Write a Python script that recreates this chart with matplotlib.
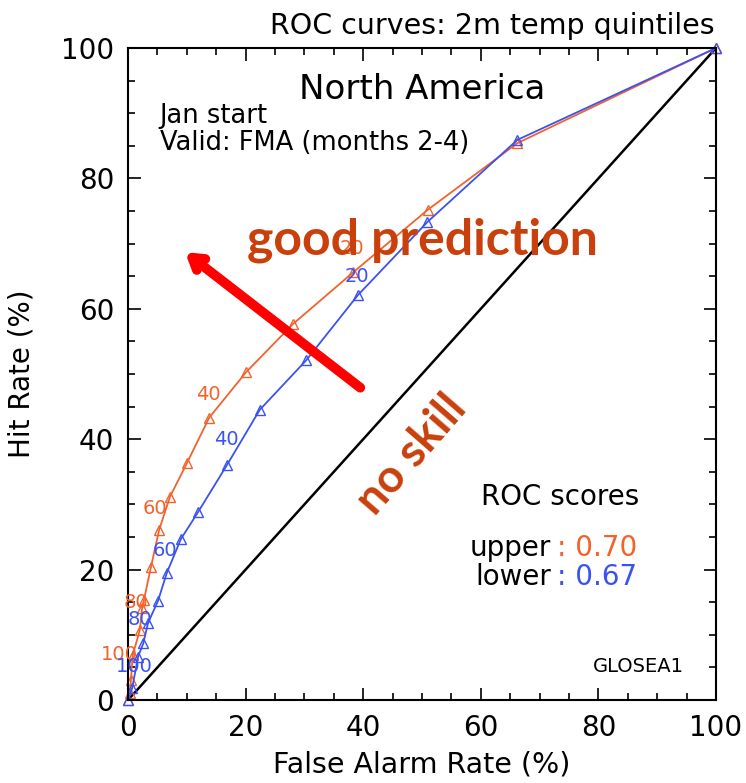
import matplotlib
matplotlib.use("Agg")
import matplotlib.pyplot as plt
from matplotlib.ticker import MultipleLocator

# ROC points (false alarm rate %, hit rate %) for the two quintile categories
upper_far = [0.0, 0.3, 0.5, 0.8, 2.0, 2.4, 2.7, 3.9, 5.3, 7.1, 10.0, 13.8, 20.1, 28.1, 38.3, 51.0, 66.2, 100.0]
upper_hit = [0.0, 1.1, 3.1, 6.9, 10.7, 14.1, 15.3, 20.4, 26.1, 31.1, 36.3, 43.3, 50.3, 57.7, 65.6, 75.2, 85.4, 100.0]
lower_far = [0.0, 0.7, 1.7, 2.6, 3.4, 5.1, 6.6, 9.0, 11.9, 16.8, 22.4, 30.3, 39.1, 50.9, 66.2, 100.0]
lower_hit = [0.0, 1.8, 6.6, 8.7, 11.8, 15.2, 19.5, 24.7, 28.8, 36.0, 44.5, 52.1, 62.1, 73.3, 85.9, 100.0]

# probability threshold labels along each curve
upper_labels = ["100", "80", "60", "40", "20"]
upper_label_xy = [(-1.4, 7.0), (1.3, 15.0), (4.6, 29.4), (13.6, 46.8), (38.1, 69.2)]
lower_labels = ["100", "80", "60", "40", "20"]
lower_label_xy = [(1.0, 5.2), (2.1, 12.3), (6.3, 23.0), (16.8, 39.9), (38.9, 64.9)]

roc_upper = "0.70"
roc_lower = "0.67"

ORANGE = "#F4622C"
BLUE = "#3B52F2"
ANNOT = "#C9400C"

fig = plt.figure(figsize=(7.46, 7.83), dpi=100)
ax = fig.add_axes([0.1716, 0.106, 0.7882, 0.8327])

ax.plot([0, 100], [0, 100], color="black", lw=1.8)
ax.plot(upper_far, upper_hit, color=ORANGE, lw=1.3, marker="^", ms=7,
        mfc="none", mec=ORANGE, mew=1.0, clip_on=False)
ax.plot(lower_far, lower_hit, color=BLUE, lw=1.3, marker="^", ms=7,
        mfc="none", mec=BLUE, mew=1.0, clip_on=False)

for lab, (x, y) in zip(upper_labels, upper_label_xy):
    ax.text(x, y, lab, color=ORANGE, fontsize=14, ha="center", va="center", clip_on=False)
for lab, (x, y) in zip(lower_labels, lower_label_xy):
    ax.text(x, y, lab, color=BLUE, fontsize=14, ha="center", va="center", clip_on=False)

ax.set_xlim(0, 100)
ax.set_ylim(0, 100)
ax.xaxis.set_major_locator(MultipleLocator(20))
ax.xaxis.set_minor_locator(MultipleLocator(5))
ax.yaxis.set_major_locator(MultipleLocator(20))
ax.yaxis.set_minor_locator(MultipleLocator(5))
ax.tick_params(which="both", direction="in", top=True, right=True, width=1.2)
ax.tick_params(which="major", length=9, labelsize=20, pad=10)
ax.tick_params(which="minor", length=5)
for sp in ax.spines.values():
    sp.set_linewidth(1.5)

ax.set_xlabel("False Alarm Rate (%)", fontsize=20.5, labelpad=6)
ax.set_ylabel("Hit Rate (%)", fontsize=20, labelpad=18)
ax.text(61.9, 101.3, "ROC curves: 2m temp quintiles", fontsize=20.5,
        ha="center", va="bottom")

ax.text(50.0, 93.6, "North America", fontsize=24.5, ha="center", va="center")
ax.text(5.4, 89.6, "Jan start", fontsize=18.5, ha="left", va="center")
ax.text(5.4, 85.4, "Valid: FMA (months 2-4)", fontsize=18.5, ha="left", va="center")

ax.text(73.5, 31.1, "ROC scores", fontsize=20, ha="center", va="center")
ax.text(72.0, 23.3, "upper", fontsize=20, ha="right", va="center")
ax.text(73.0, 23.3, ": " + roc_upper, fontsize=20, ha="left", va="center", color=ORANGE)
ax.text(72.0, 18.8, "lower", fontsize=20, ha="right", va="center")
ax.text(73.0, 18.8, ": " + roc_lower, fontsize=20, ha="left", va="center", color=BLUE)
ax.text(94.5, 5.1, "GLOSEA1", fontsize=14, ha="right", va="center")

# overlaid annotations
ax.text(50.0, 70.5, "good prediction", fontsize=36, fontweight="bold",
        family="Lato", color=ANNOT, ha="center", va="center")
ax.text(48.3, 37.6, "no skill", fontsize=33, fontweight="bold",
        family="Lato", color=ANNOT, ha="center", va="center", rotation=49)
ax.annotate("", xy=(9.7, 68.7), xytext=(39.5, 47.9),
            arrowprops=dict(arrowstyle="->,head_length=0.8,head_width=0.5",
                            color="#FF0000", lw=7, shrinkA=0, shrinkB=0))

fig.savefig("out.png", dpi=100)
